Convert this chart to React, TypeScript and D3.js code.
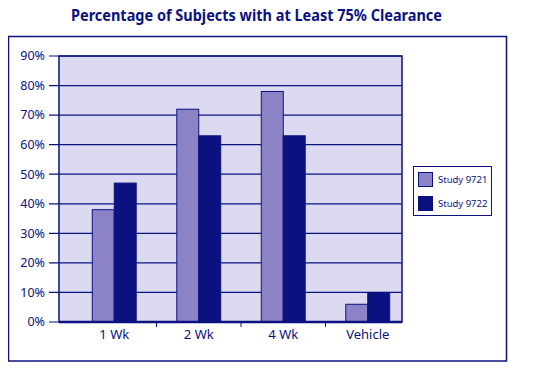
import * as d3 from 'd3';
import React, { useEffect, useRef } from 'react';

const categories = ['1 Wk', '2 Wk', '4 Wk', 'Vehicle'];
const seriesNames = ['Study 9721', 'Study 9722'];
const study9721 = [38, 72, 78, 6];
const study9722 = [47, 63, 63, 10];
const yTicks = [0, 10, 20, 30, 40, 50, 60, 70, 80, 90];

const NAVY = '#0b1280';
const LIGHT = '#8c82c6';
const BG = '#dcdaf0';

export default function App() {
  const ref = useRef<SVGSVGElement>(null);

  useEffect(() => {
    if (!ref.current) return;
    const svg = d3.select(ref.current);
    svg.selectAll('*').remove();

    const plot = { left: 59, right: 402, top: 56, bottom: 322 };
    const font = "'Noto Sans', 'Open Sans', sans-serif";

    // title
    svg
      .append('text')
      .attr('x', 71)
      .attr('y', 21)
      .attr('textLength', 371)
      .attr('lengthAdjust', 'spacingAndGlyphs')
      .attr('fill', NAVY)
      .attr('font-family', font)
      .attr('font-weight', 'bold')
      .attr('font-size', 16.5)
      .text('Percentage of Subjects with at Least 75% Clearance');

    // outer frame
    svg
      .append('rect')
      .attr('x', 8.5)
      .attr('y', 36.5)
      .attr('width', 498)
      .attr('height', 324.5)
      .attr('fill', 'white')
      .attr('stroke', NAVY)
      .attr('stroke-width', 1.5);

    const y = d3.scaleLinear().domain([0, 90]).range([plot.bottom, plot.top]);
    const x0 = d3
      .scaleBand()
      .domain(categories)
      .range([72, 410])
      .paddingInner(0.48)
      .paddingOuter(0.24);
    const x1 = d3.scaleBand().domain(seriesNames).range([0, x0.bandwidth()]);
    const color = d3.scaleOrdinal<string, string>().domain(seriesNames).range([LIGHT, NAVY]);

    // plot background
    svg
      .append('rect')
      .attr('x', plot.left)
      .attr('y', plot.top)
      .attr('width', plot.right - plot.left)
      .attr('height', plot.bottom - plot.top)
      .attr('fill', BG);

    // gridlines + ticks
    const yAxis = svg.append('g');
    yTicks.forEach(t => {
      yAxis
        .append('line')
        .attr('x1', 49)
        .attr('x2', plot.right)
        .attr('y1', y(t))
        .attr('y2', y(t))
        .attr('stroke', NAVY)
        .attr('stroke-width', 1.2);
      yAxis
        .append('text')
        .attr('x', 45)
        .attr('y', y(t))
        .attr('dy', '0.35em')
        .attr('text-anchor', 'end')
        .attr('fill', NAVY)
        .attr('font-family', font)
        .attr('font-size', 12.5)
        .text(`${t}%`);
    });

    // bars
    const rows = categories.map((c, i) => ({ c, vals: [study9721[i], study9722[i]] }));
    svg
      .append('g')
      .selectAll('g')
      .data(rows)
      .enter()
      .append('g')
      .attr('transform', d => `translate(${x0(d.c)},0)`)
      .selectAll('rect')
      .data(d => d.vals.map((v, j) => ({ s: seriesNames[j], v })))
      .enter()
      .append('rect')
      .attr('x', d => x1(d.s) as number)
      .attr('y', d => y(d.v))
      .attr('width', x1.bandwidth())
      .attr('height', d => y(0) - y(d.v))
      .attr('fill', d => color(d.s))
      .attr('stroke', NAVY)
      .attr('stroke-width', 1);

    // plot border
    svg
      .append('rect')
      .attr('x', plot.left)
      .attr('y', plot.top)
      .attr('width', plot.right - plot.left)
      .attr('height', plot.bottom - plot.top)
      .attr('fill', 'none')
      .attr('stroke', NAVY)
      .attr('stroke-width', 1.5);
    svg
      .append('line')
      .attr('x1', plot.left)
      .attr('x2', plot.right)
      .attr('y1', plot.bottom)
      .attr('y2', plot.bottom)
      .attr('stroke', NAVY)
      .attr('stroke-width', 2.5);

    // x category ticks (between groups) and labels
    const step = x0.step();
    categories.slice(1).forEach(c => {
      const xx = (x0(c) as number) - (step - x0.bandwidth()) / 2;
      svg
        .append('line')
        .attr('x1', xx)
        .attr('x2', xx)
        .attr('y1', plot.bottom)
        .attr('y2', plot.bottom + 5)
        .attr('stroke', NAVY)
        .attr('stroke-width', 1);
    });
    categories.forEach(c => {
      svg
        .append('text')
        .attr('x', (x0(c) as number) + x0.bandwidth() / 2)
        .attr('y', 339)
        .attr('text-anchor', 'middle')
        .attr('fill', NAVY)
        .attr('font-family', font)
        .attr('font-size', 13)
        .text(c);
    });

    // legend
    const lg = svg.append('g');
    lg.append('rect')
      .attr('x', 413.5)
      .attr('y', 166.5)
      .attr('width', 78)
      .attr('height', 49)
      .attr('fill', 'white')
      .attr('stroke', NAVY)
      .attr('stroke-width', 1);
    seriesNames.forEach((s, i) => {
      lg.append('rect')
        .attr('x', 418.5)
        .attr('y', 172.5 + i * 24)
        .attr('width', 14)
        .attr('height', 14)
        .attr('fill', color(s))
        .attr('stroke', NAVY)
        .attr('stroke-width', 1);
      lg.append('text')
        .attr('x', 438)
        .attr('y', 183 + i * 24)
        .attr('fill', NAVY)
        .attr('font-family', font)
        .attr('font-size', 9.5)
        .text(s);
    });
  }, []);

  return <svg ref={ref} width={537} height={372} style={{ display: 'block', margin: -8 }} />;
}
